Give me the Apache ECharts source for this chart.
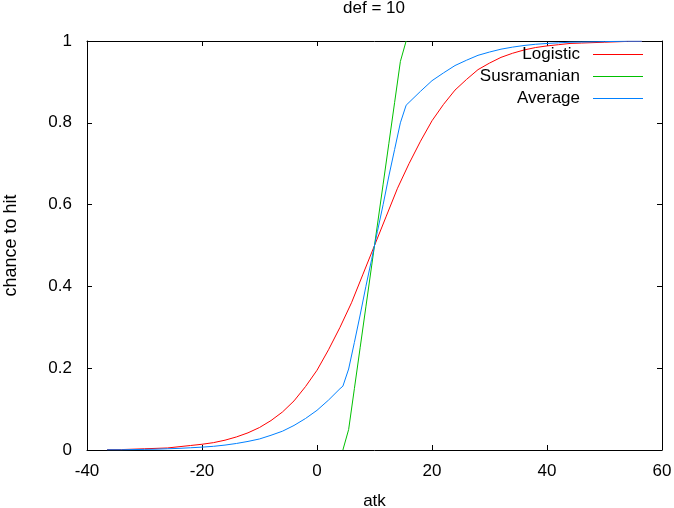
<!DOCTYPE html>
<html>
<head>
<meta charset="utf-8">
<script src="https://cdn.jsdelivr.net/npm/echarts@6/dist/echarts.min.js"></script>
<style>
  html, body { margin: 0; padding: 0; background: #fff; }
  #chart { width: 674px; height: 508px; }
</style>
</head>
<body>
<div id="chart"></div>
<script>
// def = 10: chance to hit vs atk for three hit models.
var TITLE = "def = 10";
var SERIES_NAMES = ["Logistic", "Susramanian", "Average"];
var COLORS = ["#ff0000", "#00c000", "#0080ff"];

var logisticX = [-36.5, -34, -32, -30, -28, -26, -24, -22, -20, -18, -16, -14, -12, -10, -8, -6, -4, -2,
  0, 2, 4, 6, 8, 10, 12, 14, 16, 18, 20, 22, 24, 26, 28, 30, 32, 34, 36, 38, 40, 42, 44, 46, 48, 50, 52, 54, 56.5];
var logisticY = [0.001, 0.001, 0.002, 0.003, 0.004, 0.005, 0.008, 0.011, 0.014, 0.018, 0.024, 0.032, 0.042, 0.055, 0.072, 0.093, 0.12, 0.155,
  0.195, 0.245, 0.3, 0.36, 0.43, 0.5, 0.57, 0.64, 0.7, 0.755, 0.805, 0.845, 0.88, 0.906, 0.93, 0.946, 0.96, 0.97, 0.978, 0.984, 0.988, 0.991, 0.994, 0.995, 0.996, 0.997, 0.998, 0.999, 0.999];

var susX = [4.5, 5.5, 6.5, 7.5, 8.5, 9.5, 10.5, 11.5, 12.5, 13.5, 14.5, 15.5];
var susY = [0, 0.05, 0.15, 0.25, 0.35, 0.45, 0.55, 0.65, 0.75, 0.85, 0.95, 1];

var avgX = [-36.5, -34, -32, -30, -28, -26, -24, -22, -20, -18, -16, -14, -12, -10, -8, -6, -4, -2, 0, 2, 4, 4.5,
  5.5, 6.5, 7.5, 8.5, 9.5, 10.5, 11.5, 12.5, 13.5, 14.5, 15.5,
  18, 20, 22, 24, 26, 28, 30, 32, 34, 36, 38, 40, 42, 44, 46, 48, 50, 52, 54, 56.5];
var avgY = [0.0005, 0.0005, 0.001, 0.0015, 0.002, 0.003, 0.004, 0.0055, 0.007, 0.009, 0.012, 0.016, 0.021, 0.027, 0.036, 0.046, 0.06, 0.077, 0.097, 0.122, 0.15, 0.156,
  0.198, 0.263, 0.33, 0.4, 0.466, 0.534, 0.6, 0.67, 0.735, 0.8, 0.843,
  0.877, 0.903, 0.922, 0.94, 0.953, 0.965, 0.973, 0.98, 0.985, 0.989, 0.992, 0.994, 0.9955, 0.997, 0.9975, 0.998, 0.9985, 0.999, 0.9995, 0.9995];

var X_TICKS = { min: -40, max: 60, interval: 20 };
var Y_TICKS = { min: 0, max: 1, interval: 0.2 };

function pairs(xs, ys) {
  return xs.map(function (x, i) { return [x, ys[i]]; });
}

var FONT = "Liberation Sans";
var chart = echarts.init(document.getElementById("chart"), null, { renderer: "canvas" });

function axisBase(extra) {
  var a = {
    type: "value",
    axisLine: { show: true, onZero: false, lineStyle: { color: "#000", width: 1 } },
    axisTick: { show: true, inside: true, length: 5, lineStyle: { color: "#000" } },
    splitLine: { show: false },
    axisLabel: { show: false }
  };
  for (var k in extra) a[k] = extra[k];
  return a;
}

chart.setOption({
  animation: false,
  backgroundColor: "#fff",
  title: {
    text: TITLE, left: 374, top: 0, textAlign: "center", padding: 0,
    textStyle: { fontFamily: FONT, fontSize: 17, fontWeight: "normal", color: "#000" }
  },
  grid: { left: 87, right: 12, top: 41, bottom: 58, containLabel: false, outerBoundsMode: "none" },
  legend: {
    data: SERIES_NAMES, orient: "vertical", align: "right", padding: 0,
    right: 31, top: 46, itemWidth: 50, itemHeight: 1, itemGap: 5,
    icon: "rect",
    textStyle: { fontFamily: FONT, fontSize: 17, color: "#000", lineHeight: 16, padding: [0, 8, 0, 0] }
  },
  xAxis: [
    axisBase({
      min: X_TICKS.min, max: X_TICKS.max, interval: X_TICKS.interval, position: "bottom",
      name: "atk", nameLocation: "middle", nameGap: 43,
      nameTextStyle: { fontFamily: FONT, fontSize: 17, color: "#000" },
      axisLabel: { show: true, margin: 13, fontFamily: FONT, fontSize: 17, color: "#000" }
    }),
    axisBase({ min: X_TICKS.min, max: X_TICKS.max, interval: X_TICKS.interval, position: "top" })
  ],
  yAxis: [
    axisBase({
      min: Y_TICKS.min, max: Y_TICKS.max, interval: Y_TICKS.interval, position: "left",
      name: "chance to hit", nameLocation: "middle", nameGap: 67, nameRotate: 90,
      nameTextStyle: { fontFamily: FONT, fontSize: 18, color: "#000" },
      axisLabel: { show: true, margin: 15, fontFamily: FONT, fontSize: 17, color: "#000" }
    }),
    axisBase({ min: Y_TICKS.min, max: Y_TICKS.max, interval: Y_TICKS.interval, position: "right" })
  ],
  series: [
    { name: SERIES_NAMES[0], type: "line", data: pairs(logisticX, logisticY), symbol: "none",
      color: COLORS[0], lineStyle: { width: 1, color: COLORS[0] } },
    { name: SERIES_NAMES[1], type: "line", data: pairs(susX, susY), symbol: "none",
      color: COLORS[1], lineStyle: { width: 1, color: COLORS[1] } },
    { name: SERIES_NAMES[2], type: "line", data: pairs(avgX, avgY), symbol: "none",
      color: COLORS[2], lineStyle: { width: 1, color: COLORS[2] } }
  ]
});
</script>
</body>
</html>
